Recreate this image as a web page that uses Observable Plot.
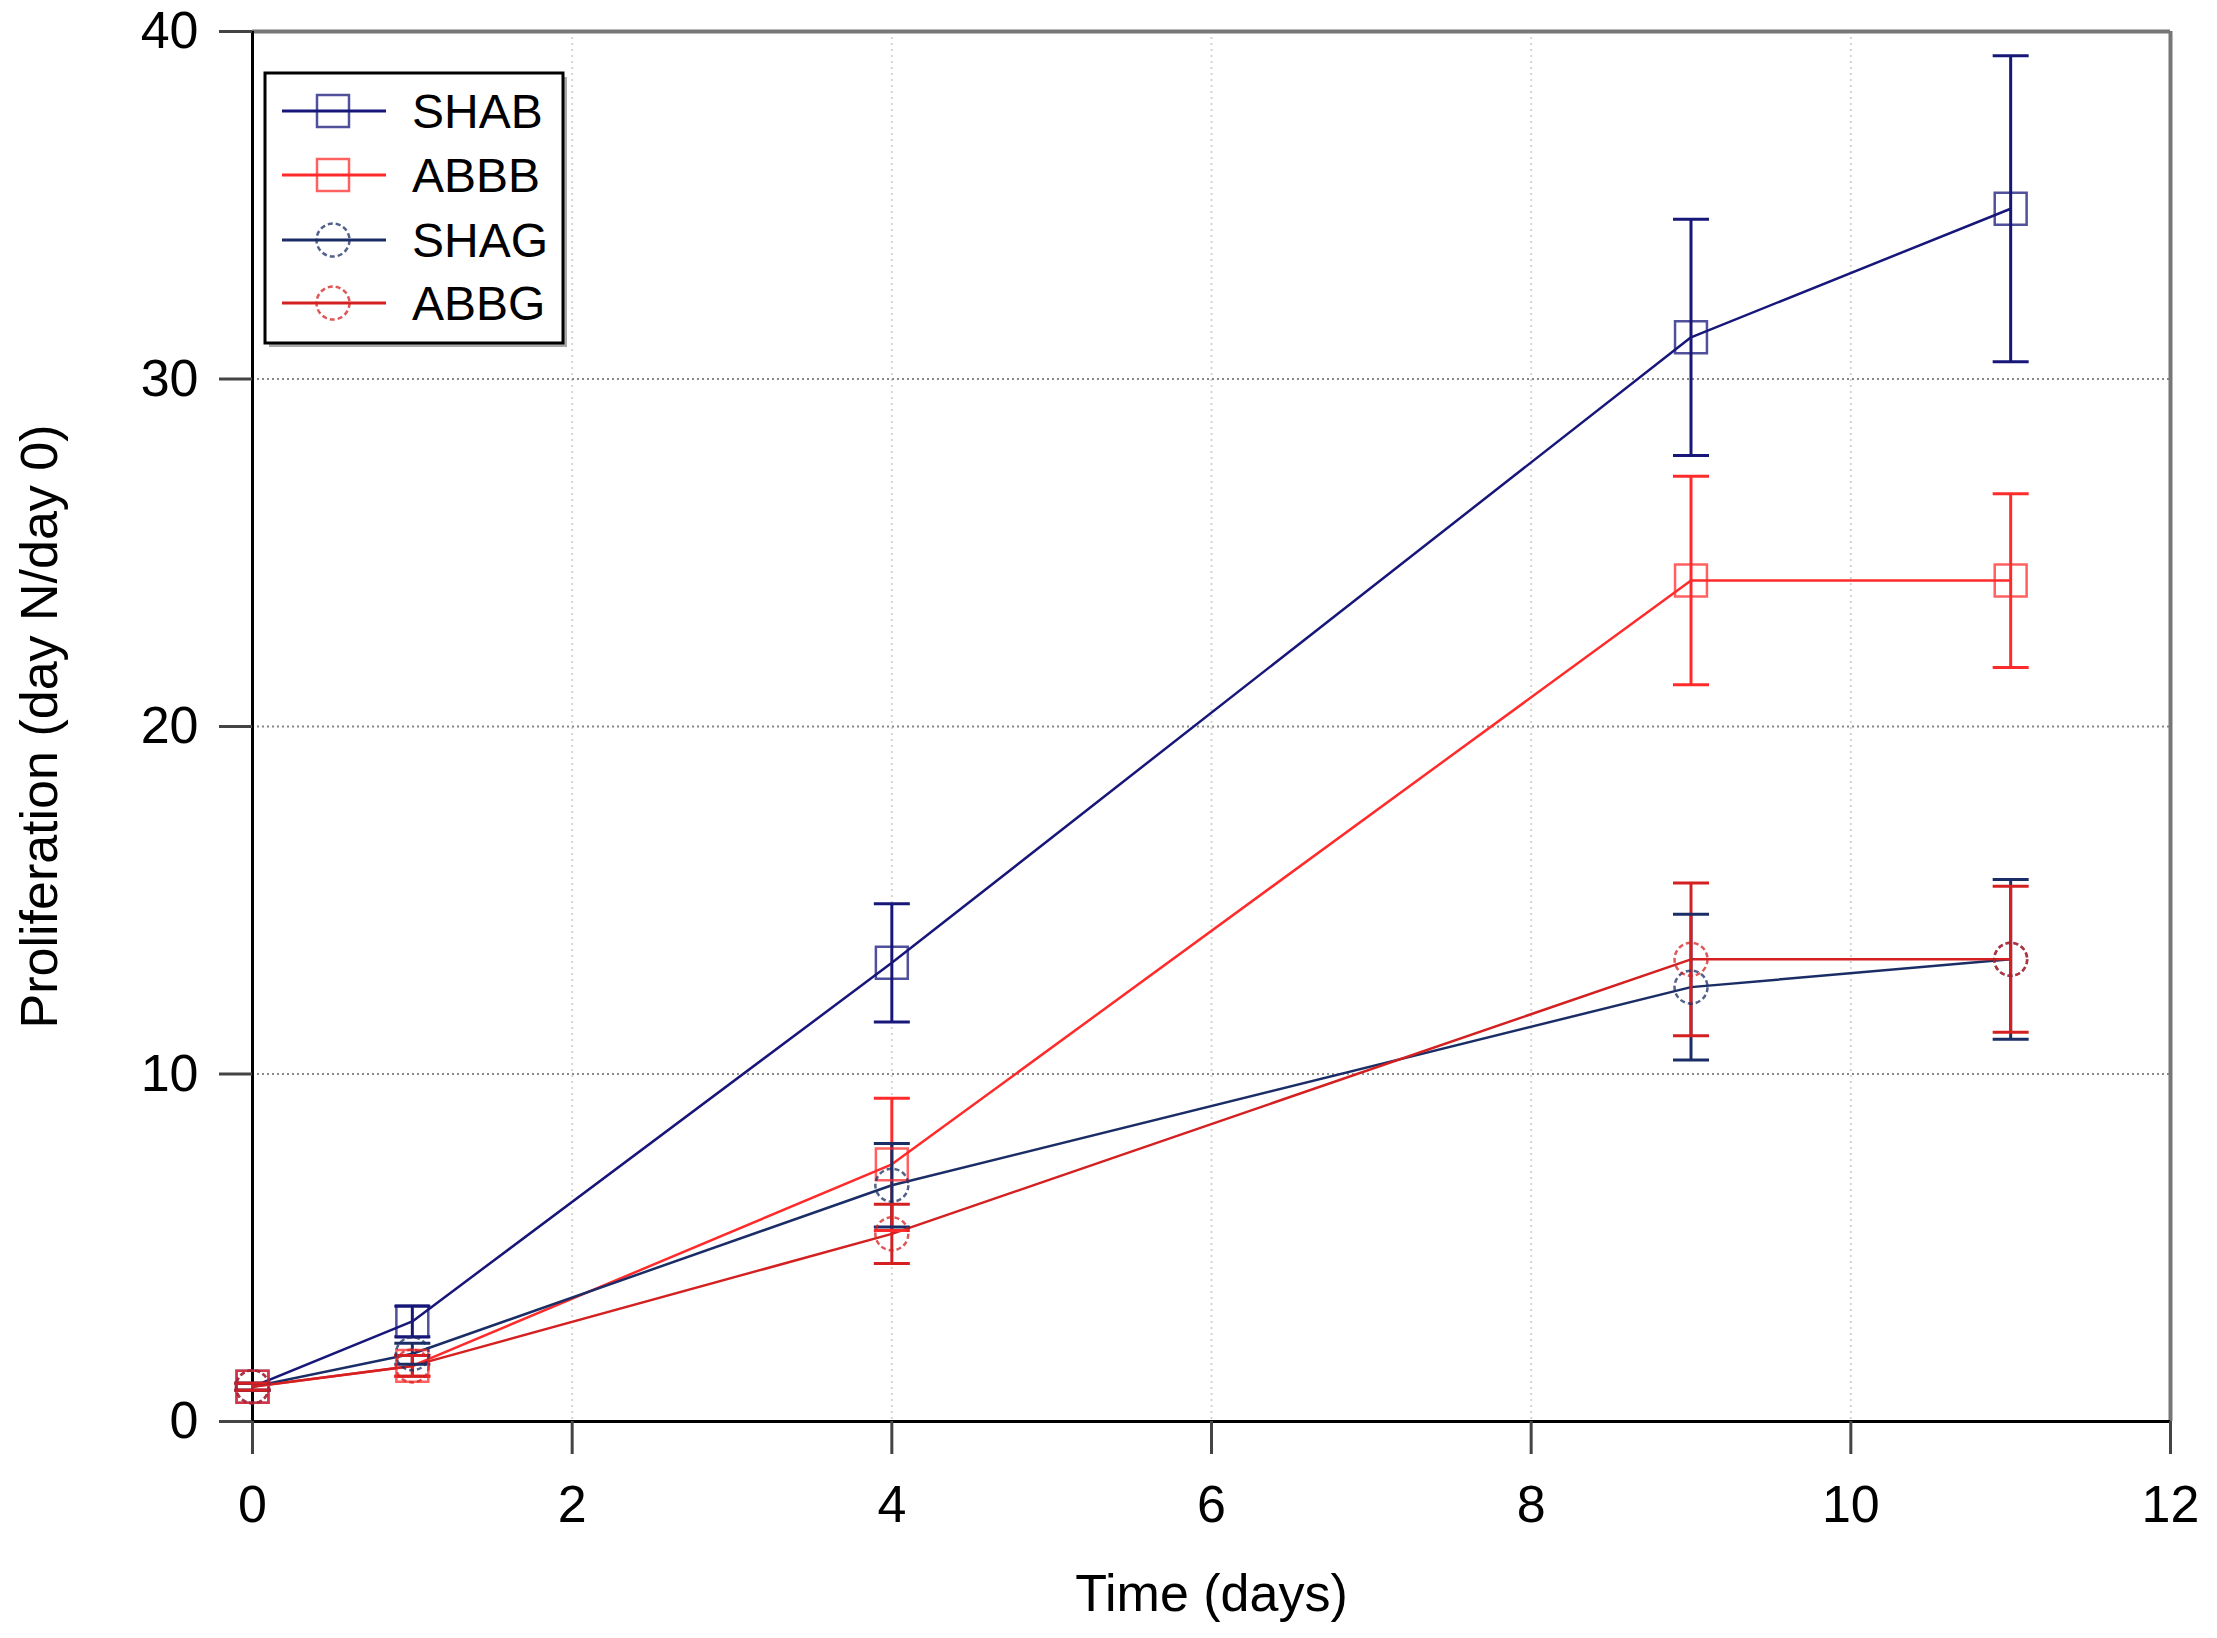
<!DOCTYPE html>
<html>
<head>
<meta charset="utf-8">
<script src="https://cdn.jsdelivr.net/npm/d3@7"></script>
<script src="https://cdn.jsdelivr.net/npm/@observablehq/plot@0.6"></script>
<style>
  body { margin: 0; background: white; }
  #chart svg { display: block; }
</style>
</head>
<body>
<div id="chart"></div>
<script>
// days of measurement
const days = [0, 1, 4, 9, 11];
const seriesNames = ["SHAB", "ABBB", "SHAG", "ABBG"];
const seriesColors = ["#17177a", "#ff2b2b", "#1a2d66", "#d42020"];
const seriesShapes = ["square", "square", "circle", "circle"];

// means and error (+/-)
const shabMean = [1.0, 2.88, 13.2, 31.2, 34.9];
const shabErr = [0.1, 0.44, 1.7, 3.4, 4.4];
const abbbMean = [1.0, 1.6, 7.4, 24.2, 24.2];
const abbbErr = [0.1, 0.3, 1.9, 3.0, 2.5];
const shagMean = [1.0, 1.95, 6.8, 12.5, 13.3];
const shagErr = [0.1, 0.3, 1.2, 2.1, 2.3];
const abbgMean = [1.0, 1.6, 5.4, 13.3, 13.3];
const abbgErr = [0.1, 0.3, 0.85, 2.2, 2.1];

const xTicks = [0, 2, 4, 6, 8, 10, 12];
const yTicks = [0, 10, 20, 30, 40];

const means = [shabMean, abbbMean, shagMean, abbgMean];
const errs = [shabErr, abbbErr, shagErr, abbgErr];

const rows = [];
seriesNames.forEach((s, i) => {
  days.forEach((d, j) => {
    rows.push({
      series: s,
      shape: seriesShapes[i],
      day: d,
      value: means[i][j],
      lo: means[i][j] - errs[i][j],
      hi: means[i][j] + errs[i][j]
    });
  });
});

// horizontal cap for the error bars
const cap = {
  draw(ctx, size) {
    const w = Math.sqrt(size / Math.PI);
    ctx.moveTo(-w, 0);
    ctx.lineTo(w, 0);
  }
};

const chart = Plot.plot({
  width: 2217,
  height: 1638,
  marginLeft: 252,
  marginRight: 47,
  marginTop: 31,
  marginBottom: 217,
  style: {
    fontFamily: "'Liberation Sans', Arial, sans-serif",
    fontSize: "52px",
    color: "black",
    background: "white"
  },
  x: { domain: [0, 12] },
  y: { domain: [0, 40] },
  color: { domain: seriesNames, range: seriesColors },
  marks: [
    Plot.gridX(xTicks.slice(1, -1), { stroke: "#d4d4d4", strokeOpacity: 1, strokeWidth: 2, strokeDasharray: "2,4" }),
    Plot.gridY(yTicks.slice(1, -1), { stroke: "#888", strokeOpacity: 1, strokeWidth: 2, strokeDasharray: "2,3" }),
    Plot.ruleY([40], { stroke: "#777", strokeWidth: 4 }),
    Plot.ruleX([12], { stroke: "#777", strokeWidth: 4 }),
    Plot.ruleY([0], { stroke: "black", strokeWidth: 3 }),
    Plot.ruleX([0], { stroke: "black", strokeWidth: 3 }),
    Plot.axisX({ ticks: xTicks, tickSize: 33, tickPadding: 31, label: null, stroke: "#444", strokeWidth: 3 }),
    Plot.axisY({ ticks: yTicks, tickSize: 33, tickPadding: 21, label: null, stroke: "#444", strokeWidth: 3 }),
    Plot.line(rows, { x: "day", y: "value", z: "series", stroke: "series", strokeWidth: 2.5 }),
    Plot.ruleX(rows, { x: "day", y1: "lo", y2: "hi", stroke: "series", strokeWidth: 3 }),
    Plot.dot(rows, { x: "day", y: "hi", symbol: cap, r: 18, fill: "none", stroke: "series", strokeWidth: 3 }),
    Plot.dot(rows, { x: "day", y: "lo", symbol: cap, r: 18, fill: "none", stroke: "series", strokeWidth: 3 }),
    Plot.dot(rows.filter(d => d.shape === "square"), { x: "day", y: "value", symbol: "square", r: 18, fill: "none", stroke: "series", strokeWidth: 2.5, strokeOpacity: 0.75 }),
    Plot.dot(rows.filter(d => d.shape === "circle"), { x: "day", y: "value", symbol: "circle", r: 16.5, fill: "none", stroke: "series", strokeWidth: 2.5, strokeOpacity: 0.75, strokeDasharray: "5,3" }),
    Plot.text(["Proliferation (day N/day 0)"], { text: d => d, frameAnchor: "left", dx: -212, rotate: -90, textAnchor: "middle", lineAnchor: "middle", fontSize: 52 }),
    Plot.text(["Time (days)"], { text: d => d, frameAnchor: "bottom", dy: 173, textAnchor: "middle", lineAnchor: "middle", fontSize: 52 })
  ]
});

// legend box inside the plot, top-left
const svg = d3.select(chart);
const lg = svg.append("g").attr("text-anchor", "start");
lg.append("rect").attr("x", 269).attr("y", 77).attr("width", 298).attr("height", 270).attr("fill", "#aaa");
lg.append("rect").attr("x", 265).attr("y", 73).attr("width", 298).attr("height", 270)
  .attr("fill", "white").attr("stroke", "black").attr("stroke-width", 3);
const entryY = [111, 175, 240, 303];
seriesNames.forEach((s, i) => {
  const g = lg.append("g").attr("transform", `translate(0,${entryY[i]})`);
  g.append("line").attr("x1", 282).attr("x2", 386).attr("y1", 0).attr("y2", 0)
    .attr("stroke", seriesColors[i]).attr("stroke-width", 3);
  if (seriesShapes[i] === "square") {
    g.append("rect").attr("x", 317).attr("y", -16).attr("width", 32).attr("height", 32)
      .attr("fill", "none").attr("stroke", seriesColors[i]).attr("stroke-opacity", 0.75).attr("stroke-width", 2.5);
  } else {
    g.append("circle").attr("cx", 333).attr("cy", 0).attr("r", 16.5)
      .attr("fill", "none").attr("stroke", seriesColors[i]).attr("stroke-opacity", 0.75)
      .attr("stroke-width", 2.5).attr("stroke-dasharray", "5,3");
  }
  g.append("text").attr("x", 412).attr("y", 0).attr("dy", "0.36em")
    .attr("text-anchor", "start").attr("font-size", 48).attr("fill", "black").text(s);
});

d3.select("#chart").append(() => chart);
</script>
</body>
</html>
